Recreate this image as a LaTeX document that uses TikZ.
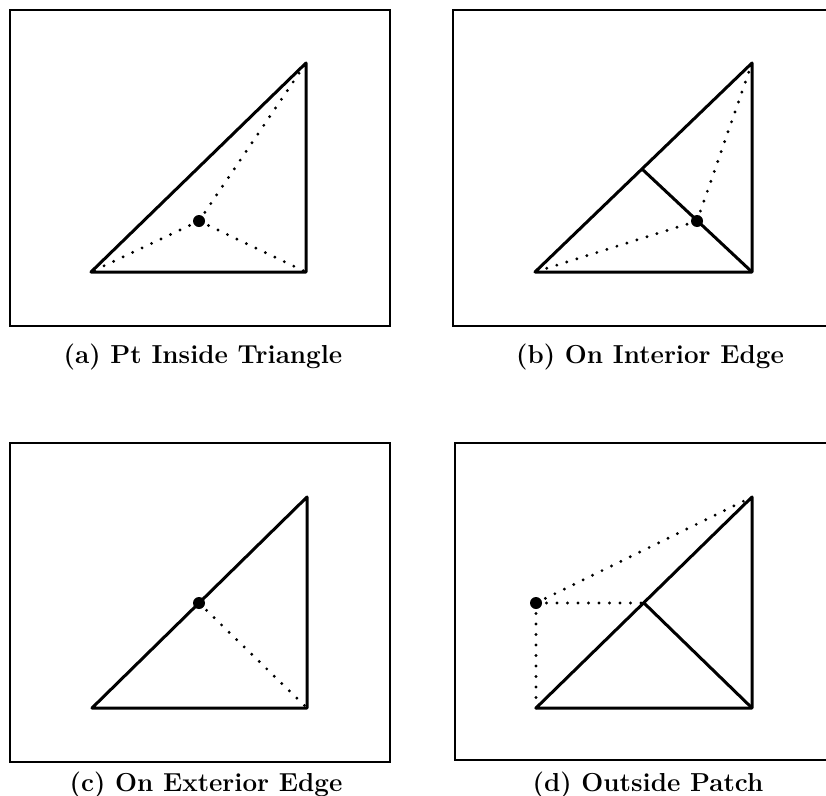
\documentclass[tikz,border=0pt]{standalone}
\begin{document}
\begin{tikzpicture}[x=1pt,y=-1pt,
  frame/.style={line width=2.2pt},
  edge/.style={line width=3pt,line join=round},
  dots/.style={line width=3.2pt,line cap=round,dash pattern=on 0pt off 10.5pt},
  pt/.style={circle,fill=black,inner sep=0pt,minimum size=12pt},
  captext/.style={font=\fontsize{26}{30}\selectfont\bfseries,inner sep=0pt}]
\useasboundingbox (0,0) rectangle (826,795);
% ---------- (a)
\draw[frame] (10,10) rectangle (390,326);
\coordinate (aA) at (91,272);
\coordinate (aB) at (306,63);
\coordinate (aC) at (306,272);
\node[pt] (aP) at (199,221) {};
\draw[edge] (aA) -- (aB) -- (aC) -- cycle;
\draw[dots] (aP.center) -- (aA);
\draw[dots] (aP.center) -- (aB);
\draw[dots] (aP.center) -- (aC);
\node[captext] (capa) at (203,357) {(a) Pt Inside Triangle};
% ---------- (b)
\draw[frame] (830,10) -- (453,10) -- (453,326) -- (830,326);
\coordinate (bA) at (535,272);
\coordinate (bB) at (752,63);
\coordinate (bC) at (752,272);
\coordinate (bM) at (642,169);
\node[pt] (bP) at (697,221) {};
\draw[edge] (bA) -- (bB) -- (bC) -- cycle;
\draw[edge] (bM) -- (bC);
\draw[dots] (bP.center) -- (bA);
\draw[dots] (bP.center) -- (bB);
\node[captext] (capb) at (650,357) {(b) On Interior Edge};
% ---------- (c)
\draw[frame] (10,443) rectangle (390,762);
\coordinate (cA) at (92,708);
\coordinate (cB) at (307,497);
\coordinate (cC) at (307,708);
\node[pt] (cP) at (199,603) {};
\draw[edge] (cA) -- (cB) -- (cC) -- cycle;
\draw[dots] (cP.center) -- (cC);
\node[captext] (capc) at (206,785) {(c) On Exterior Edge};
% ---------- (d)
\draw[frame] (830,443) -- (455,443) -- (455,760) -- (830,760);
\coordinate (dA) at (536,708);
\coordinate (dB) at (752,497);
\coordinate (dC) at (752,708);
\coordinate (dM) at (644,603);
\node[pt] (dP) at (536,603) {};
\draw[edge] (dA) -- (dB) -- (dC) -- cycle;
\draw[edge] (dM) -- (dC);
\draw[dots] (dP.center) -- (dA);
\draw[dots] (dP.center) -- (dM);
\draw[dots] (dP.center) -- (dB);
\node[captext] (capd) at (648,785) {(d) Outside Patch};
\end{tikzpicture}
\end{document}
